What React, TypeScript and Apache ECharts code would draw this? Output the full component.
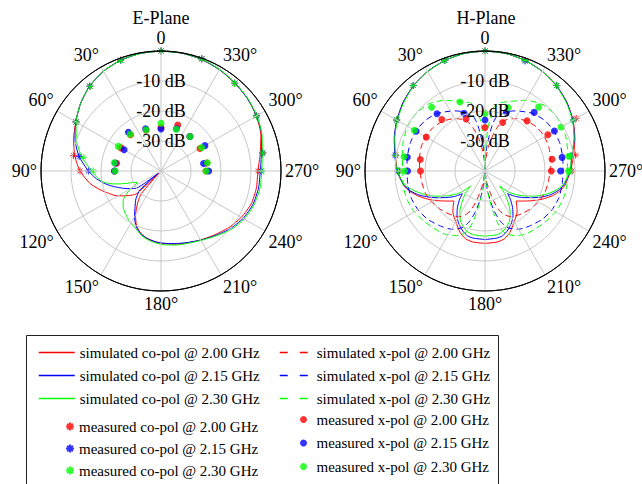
import React, { useEffect, useRef } from "react";
import * as echarts from "echarts";

const FONT = "'Liberation Serif', 'Times New Roman', serif";
const RED = "#ff0000";
const BLUE = "#0000ff";
const GREEN = "#00ff00";

// Angle (deg, counter-clockwise from boresight) / gain (dB) pairs
const eCo200: number[][] = [[0,0],[10,-0.2],[20,-0.7],[30,-1.6],[40,-3.0],[50,-5.0],[60,-7.2],[70,-9.0],[80,-10.8],[90,-13.0],[100,-16.0],[107,-18.7],[113,-21.0],[118,-22.6],[124,-25.2],[130,-27.5],[133,-29],[136,-39],[139,-30],[143,-27.3],[150,-23.0],[156,-20.0],[162,-18.2],[170,-16.8],[180,-15.9],[190,-15.2],[200,-14.5],[210,-13.5],[220,-12.2],[230,-10.6],[240,-9.1],[250,-8.0],[260,-7.7],[270,-7.7],[280,-6.4],[290,-4.6],[300,-3.3],[310,-2.4],[320,-1.7],[330,-1.0],[340,-0.4],[350,-0.1],[360,0]];
const eCo215: number[][] = [[0,0],[10,-0.2],[20,-0.7],[30,-1.6],[40,-3.0],[50,-5.0],[60,-7.2],[70,-9.5],[80,-12.3],[90,-15.8],[97,-18.4],[103,-21],[108,-23.3],[115,-26.3],[120,-28.3],[125,-30],[128,-39],[132,-30.6],[138,-27.5],[144,-25.3],[150,-22.3],[156,-19.7],[162,-18.0],[168,-17.1],[176,-16.3],[184,-15.8],[192,-15.3],[200,-14.6],[210,-13.4],[220,-11.9],[230,-10.0],[240,-8.4],[250,-7.4],[260,-7.0],[270,-6.9],[280,-6.0],[290,-4.3],[300,-3.2],[310,-2.4],[320,-1.7],[330,-1.0],[340,-0.4],[350,-0.1],[360,0]];
const eCo230: number[][] = [[0,0],[10,-0.2],[20,-0.7],[30,-1.6],[40,-3.0],[50,-5.0],[60,-7.3],[70,-10],[80,-13.2],[90,-16.9],[95,-18.5],[100,-20],[104,-22.5],[107,-25.3],[110,-28],[113,-30.3],[116,-31.3],[119,-29.5],[123,-26.5],[128,-24],[134,-22.5],[140,-21.5],[148,-20.2],[158,-18.7],[165,-17.2],[173,-16.2],[182,-15.4],[192,-14.8],[200,-14.3],[210,-13.3],[220,-11.7],[230,-9.6],[240,-8.0],[250,-7.0],[260,-6.5],[270,-6.4],[280,-5.7],[290,-4.2],[300,-3.1],[310,-2.3],[320,-1.6],[330,-0.9],[340,-0.3],[350,-0.1],[360,0]];

const hCo200: number[][] = [[0,0],[10,-0.2],[20,-0.8],[30,-1.7],[40,-2.9],[50,-4.4],[60,-6.1],[70,-7.9],[80,-9.6],[90,-10.9],[100,-12.5],[105,-14],[110,-16],[115,-18.2],[120,-20.4],[125,-22.6],[130,-24.4],[134,-25.6],[137,-24.5],[142,-22.6],[150,-20.5],[158,-17.9],[164,-16.5],[170,-16.0],[180,-15.9],[190,-16.0],[196,-16.5],[202,-17.9],[210,-20.5],[218,-22.6],[223,-24.5],[226,-25.6],[230,-24.4],[235,-22.6],[240,-20.4],[245,-18.2],[250,-16],[255,-14.2],[260,-12.9],[270,-11.5],[280,-10.0],[290,-8.1],[300,-6.1],[310,-4.4],[320,-2.9],[330,-1.7],[340,-0.8],[350,-0.2],[360,0]];
const hCo215: number[][] = [[0,0],[10,-0.2],[20,-0.8],[30,-1.7],[40,-2.9],[50,-4.4],[60,-6.1],[70,-7.8],[80,-9.5],[90,-10.6],[100,-12.6],[105,-14.3],[110,-16.6],[115,-19.4],[120,-22.2],[125,-24.6],[130,-26.8],[135,-29.3],[138,-27.4],[143,-24.7],[148,-22.4],[154,-20.2],[160,-18.6],[165,-17.6],[170,-17.3],[180,-17.2],[190,-17.3],[195,-17.6],[200,-18.6],[206,-20.2],[212,-22.4],[217,-24.7],[222,-27.4],[225,-29.3],[230,-26.8],[235,-24.6],[240,-22.2],[245,-19.4],[250,-16.8],[255,-14.8],[260,-13.3],[270,-11.6],[280,-10.6],[290,-8.3],[300,-6.2],[310,-4.4],[320,-2.9],[330,-1.7],[340,-0.8],[350,-0.2],[360,0]];
const hCo230: number[][] = [[0,0],[10,-0.2],[20,-0.8],[30,-1.7],[40,-3.0],[50,-4.6],[60,-6.3],[70,-8.0],[80,-9.7],[90,-10.6],[100,-13.0],[105,-15.2],[110,-17.8],[117,-21.5],[123,-24.8],[128,-27.4],[132,-29.5],[136,-33],[139,-30],[143,-27.4],[148,-24.2],[154,-21.4],[160,-19.8],[165,-18.8],[170,-18.4],[180,-18.3],[190,-18.4],[195,-18.8],[200,-19.8],[206,-21.4],[212,-24.2],[217,-27.4],[221,-30],[224,-33],[228,-29.5],[232,-27.4],[237,-24.8],[243,-21.5],[250,-17.8],[255,-15.4],[260,-13.6],[270,-11.7],[280,-10.7],[290,-8.4],[300,-6.3],[310,-4.6],[320,-3.0],[330,-1.7],[340,-0.8],[350,-0.2],[360,0]];

const hX200: number[][] = [[0,-40],[3,-37],[6,-34],[8,-32],[11,-29],[15,-25.5],[20,-22.2],[30,-19.8],[40,-18.3],[50,-17.4],[60,-17.1],[70,-17.3],[80,-17.8],[90,-18.3],[100,-18.6],[110,-18.8],[120,-19.4],[130,-20.3],[140,-21.3],[150,-22.4],[156,-24],[160,-26],[164,-29.5],[167,-33],[172,-36.5],[180,-40],[188,-36.5],[193,-33],[196,-29.5],[200,-26],[204,-24],[210,-22.4],[220,-21.3],[230,-20.3],[240,-19.4],[250,-18.8],[260,-18.6],[270,-18.3],[280,-17.8],[290,-17.3],[300,-17.1],[310,-17.4],[320,-18.3],[330,-19.8],[340,-22.2],[345,-25.5],[349,-29],[352,-32],[354,-34],[357,-37],[360,-40]];
const hX215: number[][] = [[0,-40],[2,-36],[4,-32],[7,-28],[9,-24.5],[12,-21.5],[20,-19],[27,-17.5],[40,-15],[50,-13.9],[60,-13.4],[70,-13.4],[80,-13.7],[90,-14.0],[100,-13.9],[110,-13.8],[120,-14.2],[130,-15.0],[141,-16.4],[150,-17.6],[158,-19.6],[163,-22.5],[167,-26.3],[170,-30],[174,-35],[180,-40],[186,-35],[190,-30],[193,-26.3],[197,-22.5],[202,-19.6],[210,-17.6],[219,-16.4],[230,-15.0],[240,-14.2],[250,-13.8],[260,-13.9],[270,-14.0],[280,-13.7],[290,-13.4],[300,-13.4],[310,-13.9],[320,-15],[333,-17.5],[340,-19],[348,-21.5],[351,-24.5],[353,-28],[356,-32],[358,-36],[360,-40]];
const hX230: number[][] = [[0,-40],[2,-31],[4,-25.5],[6,-21.5],[8,-18.5],[12,-16.8],[20,-15.3],[30,-12.8],[40,-10.8],[50,-10.1],[60,-10.2],[70,-11.0],[80,-12.0],[90,-12.6],[100,-12.3],[110,-12.3],[120,-12.8],[130,-13.7],[140,-14.5],[148,-15.1],[155,-16.2],[160,-17.5],[164,-19.3],[167,-23],[170,-28.5],[175,-35],[180,-40],[185,-35],[190,-28.5],[193,-23],[196,-19.3],[200,-17.5],[205,-16.2],[212,-15.1],[220,-14.5],[230,-13.7],[240,-12.8],[250,-12.3],[260,-12.3],[270,-12.6],[280,-12.0],[290,-11.0],[300,-10.2],[310,-10.1],[320,-10.8],[330,-12.8],[340,-15.3],[348,-16.8],[352,-18.5],[354,-21.5],[356,-25.5],[358,-31],[360,-40]];

// Measured angles (deg)
const measAngles = [0, 20, 40, 60, 80, 90, 270, 280, 300, 320, 340];

const eMeasCo200 = [0, -0.7, -3.1, -7.3, -10.4, -13.0, -7.6, -5.5, -3.2, -1.8, -0.2];
const eMeasCo215 = [0, -0.7, -3.1, -7.3, -12.3, -15.8, -6.6, -5.6, -3.2, -1.8, -0.2];
const eMeasCo230 = [0, -0.8, -3.2, -7.4, -13.7, -17.4, -6.4, -5.6, -3.3, -1.9, -0.3];
const eMeasX200 = [-25.5, -25.5, -24.2, -24.6, -25.0, -24.5, -25.0, -24.5, -25.0, -25.0, -23.7];
const eMeasX215 = [-26.0, -25.0, -23.1, -25.8, -24.5, -24.5, -24.1, -25.6, -23.1, -25.0, -25.0];
const eMeasX230 = [-24.1, -25.4, -24.0, -23.6, -24.2, -24.7, -25.0, -24.3, -24.4, -25.0, -25.2];

const hMeasCo200 = [0, -0.8, -2.8, -6.0, -9.8, -11.5, -11.0, -9.4, -4.9, -2.8, -0.8];
const hMeasCo215 = [0, -0.8, -2.8, -6.0, -9.6, -11.0, -11.7, -11.0, -6.0, -2.8, -1.0];
const hMeasCo230 = [0, -0.8, -2.8, -6.0, -9.8, -11.2, -11.7, -11.0, -6.0, -2.8, -0.8];
const hMeasX200 = [-25.5, -21.5, -17.6, -17.4, -18.1, -18.5, -17.9, -17.3, -15.8, -18.2, -22.8];
const hMeasX215 = [-23.0, -19.5, -15.1, -13.5, -13.7, -14.2, -14.8, -13.9, -13.3, -14.5, -19.2];
const hMeasX230 = [-20.8, -15.5, -12.3, -12.8, -12.6, -13.2, -12.1, -11.6, -10.7, -12.2, -17.5];

const angleTicks = [0, 30, 60, 90, 120, 150, 180, 210, 240, 270, 300, 330];
const dbTicks = [-30, -20, -10];

const NAMES = {
  sim200: "simulated co-pol @ 2.00 GHz",
  sim215: "simulated co-pol @ 2.15 GHz",
  sim230: "simulated co-pol @ 2.30 GHz",
  simX200: "simulated x-pol @ 2.00 GHz",
  simX215: "simulated x-pol @ 2.15 GHz",
  simX230: "simulated x-pol @ 2.30 GHz",
  meas200: "measured co-pol @ 2.00 GHz",
  meas215: "measured co-pol @ 2.15 GHz",
  meas230: "measured co-pol @ 2.30 GHz",
  measX200: "measured x-pol @ 2.00 GHz",
  measX215: "measured x-pol @ 2.15 GHz",
  measX230: "measured x-pol @ 2.30 GHz",
};

const STAR = "path://M5 0L5 10M0 5L10 5M1.5 1.5L8.5 8.5M1.5 8.5L8.5 1.5";

function curve(name: string, polarIndex: number, pts: number[][], color: string, dashed = false) {
  return {
    type: "line",
    name,
    coordinateSystem: "polar",
    polarIndex,
    data: pts.map(([a, v]) => [v, a]),
    symbol: "none",
    smooth: 0.2,
    silent: true,
    lineStyle: { color, width: 1, type: dashed ? [6, 4] : "solid" },
    itemStyle: { color },
    z: 3,
  };
}

function points(name: string, polarIndex: number, vals: number[], color: string, star: boolean) {
  return {
    type: "scatter",
    name,
    coordinateSystem: "polar",
    polarIndex,
    data: measAngles.map((a, i) => [vals[i], a]),
    symbol: star ? STAR : "circle",
    symbolSize: 7,
    silent: true,
    itemStyle: star
      ? { color, borderColor: color, borderWidth: 1 }
      : { color, borderWidth: 0 },
    z: star ? 4 : 5,
  };
}

function lineKey(name: string, color: string, dashed = false) {
  return {
    name,
    itemStyle: { opacity: 0 },
    lineStyle: { color, width: 1.5, type: dashed ? [8, 12] : "solid" },
  };
}

function polarAxes(polarIndex: number) {
  const grey = "#c8c8c8";
  const angleAxis = {
    polarIndex,
    type: "value",
    min: 0,
    max: 360,
    interval: 30,
    startAngle: 90,
    clockwise: false,
    axisLine: { show: true, lineStyle: { color: "#000", width: 1 } },
    axisTick: { show: false },
    splitLine: { show: true, lineStyle: { color: grey, width: 1 } },
    axisLabel: {
      show: true,
      margin: 4,
      color: "#000",
      fontFamily: FONT,
      fontSize: 18,
      formatter: (v: number) =>
        angleTicks.includes(v) ? (v === 0 ? "0" : v + "°") : "",
    },
    z: 5,
  };
  const radiusAxis = {
    polarIndex,
    type: "value",
    min: -40,
    max: 0,
    interval: 10,
    axisLine: { show: false },
    axisTick: { show: false },
    splitLine: { show: true, lineStyle: { color: [grey, grey, grey, grey, "#000"], width: 1 } },
    axisLabel: {
      show: true,
      margin: 0,
      align: "center",
      verticalAlign: "middle",
      padding: [0, 0, 6, 0],
      color: "#000",
      fontFamily: FONT,
      fontSize: 18,
      formatter: (v: number) => (dbTicks.includes(v) ? v + " dB" : ""),
    },
    z: 10,
  };
  return { angleAxis, radiusAxis };
}

export default function App() {
  const ref = useRef<HTMLDivElement>(null);

  useEffect(() => {
    if (!ref.current) return;
    const chart = echarts.init(ref.current, undefined, { renderer: "svg" });
    const e = polarAxes(0);
    const h = polarAxes(1);
    const legendText = { color: "#000", fontFamily: FONT, fontSize: 15 };
    const titleText = { color: "#000", fontFamily: FONT, fontSize: 18, fontWeight: "normal" };

    chart.setOption({
      animation: false,
      backgroundColor: "#fff",
      title: [
        { text: "E-Plane", left: 161, top: 9, textAlign: "center", padding: 0, textStyle: titleText },
        { text: "H-Plane", left: 486, top: 9, textAlign: "center", padding: 0, textStyle: titleText },
      ],
      polar: [
        { center: [161, 171], radius: 120 },
        { center: [485, 171], radius: 120 },
      ],
      angleAxis: [e.angleAxis, h.angleAxis],
      radiusAxis: [e.radiusAxis, h.radiusAxis],
      legend: [
        {
          orient: "vertical",
          left: 38,
          top: 345,
          padding: 0,
          itemWidth: 36,
          itemHeight: 10,
          itemGap: 8,
          selectedMode: false,
          textStyle: legendText,
          data: [
            lineKey(NAMES.sim200, RED),
            lineKey(NAMES.sim215, BLUE),
            lineKey(NAMES.sim230, GREEN),
          ],
        },
        {
          orient: "vertical",
          left: 65,
          top: 419,
          padding: 0,
          itemWidth: 8,
          itemHeight: 8,
          itemGap: 7,
          selectedMode: false,
          textStyle: legendText,
          data: [NAMES.meas200, NAMES.meas215, NAMES.meas230],
        },
        {
          orient: "vertical",
          left: 279,
          top: 345,
          padding: 0,
          itemWidth: 28,
          itemHeight: 10,
          itemGap: 8,
          selectedMode: false,
          textStyle: { ...legendText, padding: [0, 0, 0, 4] },
          data: [
            lineKey(NAMES.simX200, RED, true),
            lineKey(NAMES.simX215, BLUE, true),
            lineKey(NAMES.simX230, GREEN, true),
          ],
        },
        {
          orient: "vertical",
          left: 300,
          top: 412,
          padding: 0,
          itemWidth: 8,
          itemHeight: 7,
          itemGap: 8.5,
          selectedMode: false,
          textStyle: { ...legendText, padding: [0, 0, 0, 4] },
          data: [NAMES.measX200, NAMES.measX215, NAMES.measX230],
        },
      ],
      graphic: [
        {
          type: "rect",
          shape: { x: 26.5, y: 335.5, width: 472, height: 170 },
          style: { fill: "none", stroke: "#222", lineWidth: 1 },
          silent: true,
          z: 0,
        },
      ],
      series: [
        curve(NAMES.sim200, 0, eCo200, RED),
        curve(NAMES.sim215, 0, eCo215, BLUE),
        curve(NAMES.sim230, 0, eCo230, GREEN),
        points(NAMES.meas200, 0, eMeasCo200, RED, true),
        points(NAMES.meas215, 0, eMeasCo215, BLUE, true),
        points(NAMES.meas230, 0, eMeasCo230, GREEN, true),
        points(NAMES.measX200, 0, eMeasX200, RED, false),
        points(NAMES.measX215, 0, eMeasX215, BLUE, false),
        points(NAMES.measX230, 0, eMeasX230, GREEN, false),

        curve(NAMES.sim200, 1, hCo200, RED),
        curve(NAMES.sim215, 1, hCo215, BLUE),
        curve(NAMES.sim230, 1, hCo230, GREEN),
        curve(NAMES.simX200, 1, hX200, RED, true),
        curve(NAMES.simX215, 1, hX215, BLUE, true),
        curve(NAMES.simX230, 1, hX230, GREEN, true),
        points(NAMES.meas200, 1, hMeasCo200, RED, true),
        points(NAMES.meas215, 1, hMeasCo215, BLUE, true),
        points(NAMES.meas230, 1, hMeasCo230, GREEN, true),
        points(NAMES.measX200, 1, hMeasX200, RED, false),
        points(NAMES.measX215, 1, hMeasX215, BLUE, false),
        points(NAMES.measX230, 1, hMeasX230, GREEN, false),
      ],
    });

    return () => chart.dispose();
  }, []);

  return (
    <div
      ref={ref}
      style={{ position: "fixed", left: 0, top: 0, width: 642, height: 484, background: "#fff" }}
    />
  );
}
